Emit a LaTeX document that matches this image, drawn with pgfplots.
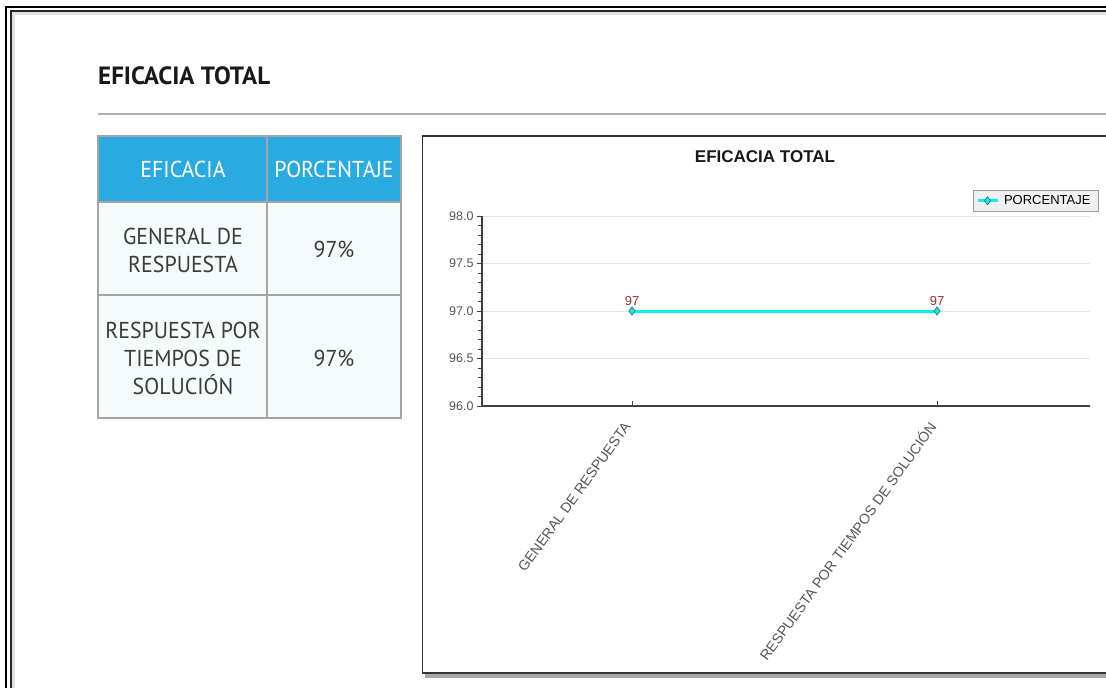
\documentclass[border=0pt]{standalone}
\usepackage{fontspec}
\usepackage{pgfplots}
\pgfplotsset{compat=1.18}
\setmainfont{Liberation Sans}
\newfontfamily\pagefont[FakeStretch=0.95]{PT Sans}
\newfontfamily\titlefont{PT Sans}
\definecolor{hdrblue}{RGB}{41,171,226}
\definecolor{cellbg}{RGB}{245,250,250}
\definecolor{cellline}{RGB}{165,165,165}
\definecolor{bodytext}{RGB}{60,60,60}
\definecolor{linecyan}{RGB}{10,238,238}
\definecolor{markteal}{RGB}{45,125,135}
\definecolor{lblred}{RGB}{160,45,55}
\definecolor{ticktext}{RGB}{85,85,85}
\begin{document}
\begin{tikzpicture}
\useasboundingbox (0pt,0pt) rectangle (1106pt,-688pt);
\clip (0pt,0pt) rectangle (1106pt,-688pt);
\begin{scope}[x=1pt,y=1pt]
% page frame
\draw[line width=2pt,black] (6,-700) -- (6,-6.5) -- (1120,-6.5);
\draw[line width=1.5pt,black!85] (11,-700) -- (11,-11) -- (1120,-11);
\draw[line width=2.5pt,black!12] (13.5,-700) -- (13.5,-13.5) -- (1120,-13.5);
% page title
\node[anchor=base west,inner sep=0pt,text=black!90,font=\titlefont\bfseries\fontsize{25}{25}\selectfont] at (98,-84) {EFICACIA TOTAL};
\draw[black!30,line width=1.5pt] (98,-114) -- (1120,-114);
% table
\fill[hdrblue] (98,-136) rectangle (401,-202);
\fill[cellbg] (98,-202) rectangle (401,-418);
\draw[cellline,line width=2pt] (98,-136) rectangle (401,-418);
\draw[cellline,line width=2pt] (98,-202) -- (401,-202);
\draw[cellline,line width=2pt] (98,-295) -- (401,-295);
\draw[cellline,line width=2pt] (267,-136) -- (267,-418);
\begin{scope}[every node/.style={align=center,inner sep=0pt,font=\pagefont\fontsize{23}{28}\selectfont}]
\node[text=white] at (183,-169) {EFICACIA};
\node[text=white] at (334,-169) {PORCENTAJE};
\node[text=bodytext] at (183,-250) {GENERAL DE\\RESPUESTA};
\node[text=bodytext] at (334,-249) {97\%};
\node[text=bodytext] at (183,-358) {RESPUESTA POR\\TIEMPOS DE\\SOLUCIÓN};
\node[text=bodytext] at (334,-358) {97\%};
\end{scope}
% chart box
\fill[black!35] (425,-672) rectangle (1120,-678);
\draw[line width=1.5pt,black!80,fill=white] (422.5,-136) rectangle (1120,-673);
\node[font=\bfseries\fontsize{17}{17}\selectfont,text=black!90] at (765,-157) {EFICACIA TOTAL};
\end{scope}
\begin{axis}[
  at={(482pt,-406pt)}, anchor=south west,
  scale only axis, width=608pt, height=190pt,
  xmin=-0.4918, xmax=1.5016, ymin=96, ymax=98,
  axis lines*=left,
  axis line style={black!75,line width=1.5pt},
  xtick={0,1},
  xticklabels={GENERAL DE RESPUESTA,RESPUESTA POR TIEMPOS DE SOLUCIÓN},
  xticklabel style={anchor=east,xshift=-4pt,yshift=-17pt,rotate=54,inner sep=1pt,font=\fontsize{14.2}{14.2}\selectfont,text=ticktext},
  xtick align=inside,
  ytick={96,96.5,97,97.5,98},
  minor y tick num=4,
  ytick align=outside,
  major tick length=5pt, minor tick length=4pt,
  tick style={black!75,line width=1pt},
  /pgf/number format/assume math mode=true,
  yticklabel style={/pgf/number format/.cd,fixed,fixed zerofill,precision=1,/tikz/.cd,font=\fontsize{12.5}{12.5}\selectfont,text=ticktext},
  ymajorgrids,
  major grid style={black!10,line width=1pt},
  legend style={at={(1.0148,1.137)},anchor=north east,fill=black!6,draw=black!40,line width=1pt,
    font=\fontsize{13}{13}\selectfont,inner xsep=3pt,inner ysep=3pt,cells={anchor=west},
    nodes={inner xsep=5pt,inner ysep=2pt}},
  legend image code/.code={%
    \draw[#1] (0pt,0pt) -- (20pt,0pt);
    \draw[#1,mark repeat=2,mark phase=2] plot coordinates {(0pt,0pt) (10pt,0pt) (20pt,0pt)};},
  clip=false,
]
\addplot[color=linecyan,line width=3pt,
  mark=diamond*,mark size=4pt,
  mark options={fill=linecyan,draw=markteal,line width=0.8pt},
  nodes near coords,
  nodes near coords style={text=lblred,font=\fontsize{13}{13}\selectfont,anchor=south,yshift=2pt}]
  coordinates {(0,97) (1,97)};
\addlegendentry{PORCENTAJE}
\end{axis}
\end{tikzpicture}
\end{document}
